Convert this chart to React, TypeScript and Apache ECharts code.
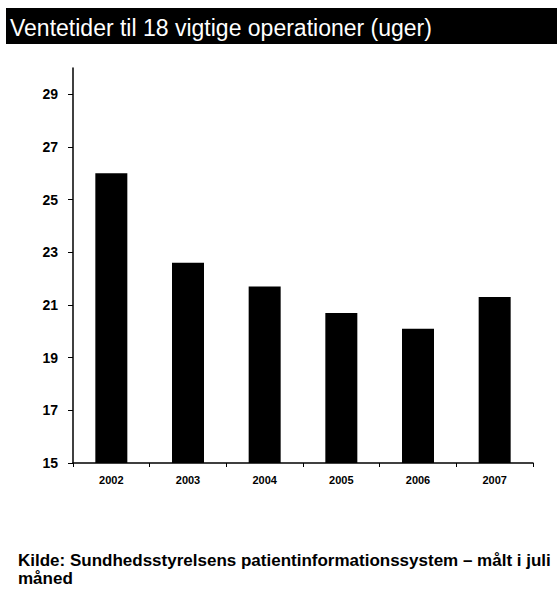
import React, { useEffect, useRef } from "react";
import * as echarts from "echarts";

const title = "Ventetider til 18 vigtige operationer (uger)";
const sourceLine1 = "Kilde: Sundhedsstyrelsens patientinformationssystem – målt i juli";
const sourceLine2 = "måned";
const years = ["2002", "2003", "2004", "2005", "2006", "2007"];
const weeks = [26.0, 22.6, 21.7, 20.7, 20.1, 21.3];

export default function App() {
  const ref = useRef<HTMLDivElement>(null);
  useEffect(() => {
    document.body.style.margin = "0";
    const chart = echarts.init(ref.current!, null, { renderer: "svg" });
    chart.setOption({
      animation: false,
      backgroundColor: "#ffffff",
      textStyle: { fontFamily: "Liberation Sans, Arial, sans-serif" },
      grid: { left: 73, right: 24, top: 68, bottom: 126, containLabel: false },
      xAxis: {
        type: "category",
        data: years,
        axisLine: { lineStyle: { color: "#000", width: 1.5 } },
        axisTick: { show: true, length: 4, lineStyle: { color: "#000" } },
        axisLabel: {
          color: "#000",
          fontSize: 11,
          fontWeight: "bold",
          margin: 11,
          fontFamily: "Liberation Sans, Arial, sans-serif",
        },
      },
      yAxis: {
        type: "value",
        min: 15,
        max: 30,
        interval: 2,
        splitLine: { show: false },
        axisLine: { show: true, lineStyle: { color: "#000", width: 1.5 } },
        axisTick: { show: true, length: 5, lineStyle: { color: "#000" } },
        axisLabel: {
          color: "#000",
          fontSize: 14,
          fontWeight: "bold",
          margin: 15,
          showMaxLabel: false,
          fontFamily: "Liberation Sans, Arial, sans-serif",
        },
      },
      series: [
        {
          type: "bar",
          data: weeks,
          barWidth: 32,
          itemStyle: { color: "#000" },
        },
      ],
      graphic: [
        {
          type: "rect",
          shape: { x: 6, y: 8, width: 551, height: 36 },
          style: { fill: "#000" },
        },
        {
          type: "text",
          x: 10,
          y: 28,
          style: {
            text: title,
            fill: "#fff",
            font: "23px 'Liberation Sans', Arial, sans-serif",
            verticalAlign: "middle",
          },
        },
        {
          type: "text",
          x: 18,
          y: 551,
          style: {
            text: sourceLine1 + "\n" + sourceLine2,
            fill: "#000",
            font: "bold 17px 'Liberation Sans', Arial, sans-serif",
            lineHeight: 18,
            verticalAlign: "top",
          },
        },
      ],
    });
    return () => chart.dispose();
  }, []);
  return <div ref={ref} style={{ width: 557, height: 589 }} />;
}
